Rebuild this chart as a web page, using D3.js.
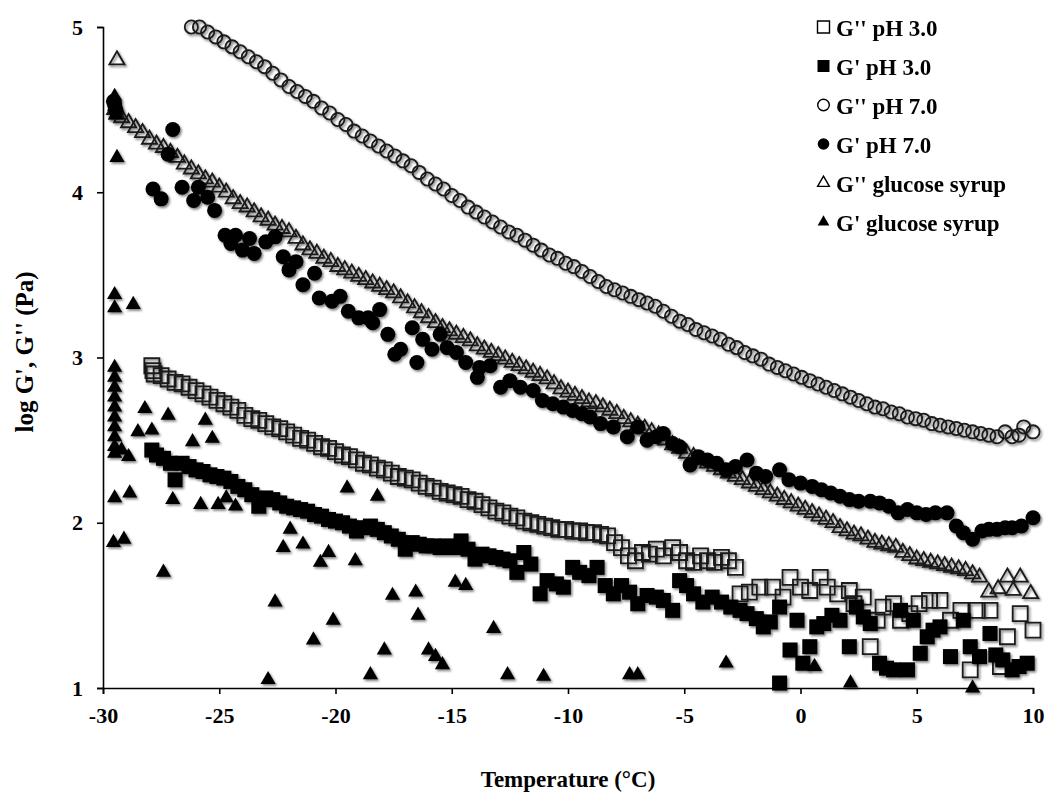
<!DOCTYPE html>
<html>
<head>
<meta charset="utf-8">
<script src="https://cdn.jsdelivr.net/npm/d3@7"></script>
<style>
  html, body { margin: 0; padding: 0; background: #fff; }
  svg { display: block; font-family: "Liberation Serif", "Times New Roman", serif; font-weight: bold; }
</style>
</head>
<body>
<svg id="chart" width="1047" height="796"></svg>
<script>
// ---------------- DATA ----------------
const xTicks = [-30, -25, -20, -15, -10, -5, 0, 5, 10];
const yTicks = [1, 2, 3, 4, 5];
const xTitle = "Temperature (°C)";
const yTitle = "log G', G'' (Pa)";
const legendLabels = ["G'' pH 3.0", "G' pH 3.0", "G'' pH 7.0", "G' pH 7.0", "G'' glucose syrup", "G' glucose syrup"];

// G'' pH 3.0 (open squares)  [temperature, log modulus]
const gppPH3 = [
 [-27.9,2.95],[-27.85,2.92],[-27.8,2.90],[-27.5,2.89],[-27.2,2.87],[-26.9,2.85],[-26.6,2.84],[-26.3,2.82],[-26.0,2.80],
 [-25.7,2.78],[-25.4,2.76],[-25.1,2.74],[-24.8,2.72],[-24.5,2.70],[-24.2,2.68],[-23.9,2.65],[-23.6,2.63],[-23.3,2.62],
 [-23.0,2.60],[-22.7,2.58],[-22.4,2.57],[-22.1,2.55],[-21.8,2.53],[-21.5,2.51],[-21.2,2.50],[-20.9,2.48],[-20.6,2.46],
 [-20.3,2.45],[-20.0,2.43],[-19.7,2.41],[-19.4,2.40],[-19.1,2.38],[-18.8,2.36],[-18.5,2.35],[-18.2,2.33],[-17.9,2.32],
 [-17.6,2.30],[-17.3,2.28],[-17.0,2.27],[-16.7,2.26],[-16.4,2.24],[-16.1,2.22],[-15.8,2.21],[-15.5,2.19],[-15.2,2.18],
 [-14.9,2.17],[-14.6,2.16],[-14.3,2.14],[-14.0,2.13],[-13.7,2.11],[-13.4,2.09],[-13.1,2.07],[-12.8,2.06],[-12.5,2.04],
 [-12.2,2.03],[-11.9,2.01],[-11.6,2.00],[-11.3,1.99],[-11.0,1.98],[-10.7,1.97],[-10.4,1.96],[-10.1,1.96],[-9.8,1.95],
 [-9.5,1.95],[-9.2,1.94],[-8.9,1.94],[-8.6,1.93],[-8.3,1.92],[-8.0,1.88],[-7.7,1.85],[-7.4,1.80],[-7.1,1.77],
 [-6.8,1.82],[-6.5,1.81],[-6.2,1.84],[-5.9,1.80],[-5.5,1.85],[-5.2,1.82],[-4.9,1.77],[-4.6,1.76],[-4.3,1.80],
 [-4.0,1.77],[-3.7,1.76],[-3.4,1.79],[-3.1,1.77],[-2.8,1.73],[-2.6,1.57],[-2.2,1.58],[-1.75,1.61],[-1.2,1.61],
 [-0.75,1.55],[-0.45,1.67],[0.0,1.61],[0.4,1.59],[0.85,1.67],[1.15,1.61],[1.6,1.57],[2.1,1.59],[2.3,1.51],
 [2.7,1.55],[3.0,1.25],[3.3,1.41],[3.55,1.49],[4.0,1.51],[4.3,1.41],[4.7,1.45],[5.1,1.51],[5.55,1.53],
 [6.0,1.53],[6.45,1.41],[6.9,1.47],[7.3,1.11],[7.6,1.47],[8.15,1.47],[8.6,1.13],[8.9,1.31],[9.45,1.45],[10.0,1.35]
];

// G' pH 3.0 (filled squares)
const gpPH3 = [
 [-27.9,2.44],[-27.7,2.41],[-27.4,2.39],[-27.1,2.36],[-26.9,2.26],[-26.6,2.36],[-26.3,2.34],[-26.0,2.32],[-25.7,2.31],
 [-25.4,2.29],[-25.1,2.28],[-24.8,2.27],[-24.5,2.25],[-24.2,2.22],[-23.9,2.20],[-23.6,2.17],[-23.3,2.10],[-23.0,2.15],
 [-22.7,2.14],[-22.4,2.12],[-22.1,2.10],[-21.8,2.09],[-21.5,2.08],[-21.2,2.07],[-20.9,2.05],[-20.6,2.04],[-20.3,2.02],
 [-20.0,2.01],[-19.7,2.00],[-19.4,1.98],[-19.1,1.95],[-18.8,1.97],[-18.5,1.98],[-18.2,1.96],[-17.9,1.94],[-17.6,1.92],
 [-17.3,1.90],[-17.0,1.84],[-16.7,1.88],[-16.4,1.87],[-16.1,1.86],[-15.8,1.86],[-15.5,1.85],[-15.2,1.86],[-14.9,1.85],
 [-14.6,1.89],[-14.3,1.84],[-14.0,1.78],[-13.7,1.81],[-13.4,1.80],[-13.1,1.79],[-12.8,1.78],[-12.5,1.77],[-12.2,1.70],
 [-11.9,1.82],[-11.6,1.75],[-11.2,1.57],[-10.9,1.65],[-10.5,1.63],[-10.2,1.61],[-9.8,1.73],[-9.5,1.70],[-9.1,1.68],
 [-8.75,1.73],[-8.4,1.62],[-8.05,1.57],[-7.7,1.62],[-7.35,1.58],[-7.0,1.51],[-6.6,1.56],[-6.2,1.55],[-5.9,1.53],
 [-5.5,1.47],[-5.2,1.65],[-4.9,1.62],[-4.6,1.57],[-4.2,1.52],[-3.8,1.55],[-3.4,1.52],[-3.0,1.49],[-2.6,1.47],
 [-2.3,1.45],[-1.9,1.42],[-1.6,1.37],[-1.3,1.40],[-0.9,1.49],[-0.9,1.03],[-0.45,1.23],[-0.15,1.41],[0.1,1.15],
 [0.4,1.25],[0.7,1.37],[1.0,1.39],[1.35,1.44],[1.7,1.41],[2.1,1.25],[2.4,1.49],[2.7,1.43],[3.0,1.39],
 [3.4,1.15],[3.7,1.12],[4.0,1.11],[4.3,1.47],[4.6,1.11],[4.85,1.41],[5.15,1.21],[5.45,1.31],[5.7,1.35],
 [6.0,1.37],[6.45,1.19],[7.0,1.41],[7.3,1.25],[7.7,1.19],[8.15,1.33],[8.4,1.20],[8.7,1.17],[9.1,1.11],[9.4,1.13],[9.75,1.15]
];

// G'' pH 7.0 (open circles)
const gppPH7 = [
 [-26.2,5.00],[-25.85,5.00],[-25.5,4.97],[-25.15,4.94],[-24.8,4.91],[-24.45,4.88],[-24.1,4.85],[-23.75,4.82],[-23.4,4.79],
 [-23.05,4.76],[-22.7,4.72],[-22.35,4.68],[-22.0,4.64],[-21.65,4.61],[-21.3,4.58],[-20.95,4.55],[-20.6,4.51],[-20.25,4.48],
 [-19.9,4.44],[-19.55,4.41],[-19.2,4.37],[-18.85,4.34],[-18.5,4.31],[-18.15,4.28],[-17.8,4.25],[-17.45,4.22],[-17.1,4.19],
 [-16.75,4.16],[-16.4,4.12],[-16.05,4.08],[-15.7,4.05],[-15.35,4.02],[-15.0,3.98],[-14.65,3.95],[-14.3,3.91],[-13.95,3.88],
 [-13.6,3.85],[-13.25,3.82],[-12.9,3.79],[-12.55,3.76],[-12.2,3.74],[-11.85,3.71],[-11.5,3.68],[-11.15,3.65],[-10.8,3.62],
 [-10.45,3.60],[-10.1,3.57],[-9.75,3.55],[-9.4,3.52],[-9.05,3.49],[-8.7,3.46],[-8.35,3.43],[-8.0,3.41],[-7.65,3.39],
 [-7.3,3.37],[-6.95,3.35],[-6.6,3.33],[-6.25,3.31],[-5.9,3.28],[-5.55,3.25],[-5.2,3.22],[-4.85,3.20],[-4.5,3.17],
 [-4.15,3.15],[-3.8,3.13],[-3.45,3.11],[-3.1,3.08],[-2.75,3.06],[-2.4,3.03],[-2.05,3.01],[-1.7,2.99],[-1.35,2.96],
 [-1.0,2.94],[-0.65,2.92],[-0.3,2.90],[0.05,2.88],[0.4,2.86],[0.75,2.84],[1.1,2.82],[1.45,2.80],[1.8,2.78],
 [2.15,2.76],[2.5,2.74],[2.85,2.72],[3.2,2.70],[3.55,2.69],[3.9,2.67],[4.25,2.66],[4.6,2.64],[4.95,2.63],
 [5.3,2.62],[5.65,2.60],[6.0,2.59],[6.35,2.58],[6.7,2.57],[7.05,2.56],[7.4,2.55],[7.75,2.54],[8.1,2.53],
 [8.45,2.52],[8.8,2.55],[9.1,2.52],[9.4,2.53],[9.6,2.58],[10.0,2.55]
];

// G' pH 7.0 (filled circles)
const gpPH7 = [
 [-29.55,4.55],[-29.5,4.53],[-29.45,4.50],
 [-27.85,4.02],[-27.5,3.96],[-27.0,4.38],[-27.2,4.23],[-26.6,4.03],[-26.1,3.95],[-25.9,4.03],[-25.5,3.97],[-25.2,3.89],
 [-24.75,3.74],[-24.5,3.69],[-24.3,3.74],[-24.0,3.65],[-23.7,3.72],[-23.5,3.63],[-23.0,3.70],[-22.6,3.73],[-22.25,3.61],
 [-22.0,3.53],[-21.7,3.58],[-21.4,3.44],[-20.9,3.51],[-20.7,3.36],[-20.15,3.34],[-19.8,3.37],[-19.45,3.28],[-19.0,3.24],
 [-18.6,3.24],[-18.4,3.21],[-18.1,3.29],[-17.75,3.14],[-17.45,3.02],[-17.2,3.05],[-16.7,3.18],[-16.5,2.97],[-16.25,3.11],
 [-15.85,3.05],[-15.5,3.14],[-15.2,3.06],[-14.8,3.03],[-14.4,2.97],[-13.9,2.88],[-13.8,2.94],[-13.35,2.95],[-12.9,2.82],
 [-12.5,2.86],[-12.05,2.82],[-11.5,2.80],[-11.1,2.74],[-10.65,2.72],[-10.2,2.70],[-9.8,2.68],[-9.4,2.66],[-9.05,2.64],
 [-8.6,2.60],[-8.05,2.58],[-7.45,2.52],[-7.0,2.58],[-6.6,2.50],[-6.2,2.52],[-5.9,2.54],[-5.5,2.48],[-5.2,2.46],
 [-4.75,2.35],[-4.4,2.40],[-4.0,2.38],[-3.6,2.36],[-3.2,2.32],[-2.8,2.34],[-2.3,2.38],[-1.9,2.30],[-1.5,2.28],
 [-0.9,2.32],[-0.5,2.26],[0.0,2.24],[0.5,2.22],[0.9,2.20],[1.3,2.18],[1.7,2.16],[2.1,2.14],[2.5,2.13],
 [3.0,2.13],[3.4,2.12],[3.8,2.10],[4.2,2.06],[4.6,2.08],[5.0,2.06],[5.4,2.05],[5.8,2.06],[6.3,2.06],
 [6.7,1.98],[7.0,1.94],[7.4,1.90],[7.8,1.95],[8.1,1.96],[8.45,1.96],[8.8,1.97],[9.1,1.97],[9.5,1.98],[10.0,2.03]
];

// G'' glucose syrup (open triangles)
const gppGlu = [
 [-29.4,4.80],
 [-29.5,4.50],[-29.4,4.47],[-29.2,4.45],[-28.9,4.42],[-28.6,4.39],[-28.3,4.36],[-28.0,4.32],[-27.7,4.29],[-27.4,4.27],
 [-27.1,4.24],[-26.8,4.21],[-26.5,4.17],[-26.2,4.14],[-25.9,4.11],[-25.6,4.08],[-25.3,4.06],[-25.0,4.03],[-24.7,4.00],
 [-24.4,3.96],[-24.1,3.93],[-23.8,3.91],[-23.5,3.88],[-23.2,3.85],[-22.9,3.83],[-22.6,3.80],[-22.3,3.78],[-22.0,3.76],
 [-21.7,3.72],[-21.4,3.68],[-21.1,3.65],[-20.8,3.63],[-20.5,3.60],[-20.2,3.58],[-19.9,3.55],[-19.6,3.53],[-19.3,3.51],
 [-19.0,3.49],[-18.7,3.47],[-18.4,3.45],[-18.1,3.43],[-17.8,3.41],[-17.5,3.39],[-17.2,3.36],[-16.9,3.33],[-16.6,3.30],
 [-16.3,3.27],[-16.0,3.24],[-15.7,3.21],[-15.4,3.18],[-15.1,3.16],[-14.8,3.14],[-14.5,3.12],[-14.2,3.10],[-13.9,3.07],
 [-13.6,3.05],[-13.3,3.03],[-13.0,3.01],[-12.7,2.99],[-12.4,2.97],[-12.1,2.95],[-11.8,2.93],[-11.5,2.91],[-11.2,2.89],
 [-10.9,2.87],[-10.6,2.84],[-10.3,2.81],[-10.0,2.79],[-9.7,2.77],[-9.4,2.75],[-9.1,2.73],[-8.8,2.72],[-8.5,2.70],
 [-8.2,2.68],[-7.9,2.66],[-7.6,2.63],[-7.3,2.61],[-7.0,2.59],[-6.7,2.57],[-6.4,2.55],[-6.1,2.53],[-5.8,2.50],
 [-5.5,2.47],[-5.2,2.45],[-4.9,2.42],[-4.6,2.40],[-4.3,2.38],[-4.0,2.36],[-3.7,2.34],[-3.4,2.32],[-3.1,2.30],
 [-2.8,2.28],[-2.5,2.26],[-2.2,2.24],[-1.9,2.22],[-1.6,2.20],[-1.3,2.18],[-1.0,2.16],[-0.7,2.14],[-0.4,2.12],
 [-0.1,2.10],[0.2,2.08],[0.5,2.06],[0.8,2.04],[1.1,2.02],[1.4,2.00],[1.7,1.97],[2.0,1.95],[2.3,1.93],
 [2.6,1.92],[2.9,1.90],[3.2,1.88],[3.5,1.87],[3.8,1.86],[4.1,1.85],[4.4,1.82],[4.7,1.80],[5.0,1.78],
 [5.3,1.77],[5.6,1.76],[5.9,1.75],[6.2,1.74],[6.5,1.73],[6.8,1.72],[7.1,1.71],[7.4,1.69],[7.7,1.67],
 [8.1,1.58],[8.5,1.60],[8.9,1.67],[9.15,1.59],[9.45,1.67],[9.9,1.57]
];

// G' glucose syrup (filled triangles)
const gpGlu = [
 [-29.5,4.58],[-29.5,4.52],[-29.45,4.47],[-29.4,4.21],
 [-29.5,3.38],[-29.5,3.30],[-28.7,3.32],
 [-29.5,2.94],[-29.5,2.88],[-29.5,2.82],[-29.5,2.76],[-29.5,2.70],[-29.5,2.64],[-29.5,2.58],[-29.5,2.52],
 [-29.5,2.46],[-29.5,2.42],[-29.2,2.44],[-28.9,2.40],
 [-28.2,2.69],[-28.5,2.55],[-27.9,2.56],[-27.2,2.65],[-26.15,2.49],[-25.6,2.62],[-25.3,2.51],
 [-29.5,2.15],[-28.85,2.18],[-29.55,1.88],[-29.1,1.90],[-27.4,1.70],[-27.0,2.14],[-25.8,2.11],[-25.05,2.11],
 [-24.7,2.15],[-24.3,2.10],
 [-22.9,1.05],[-22.6,1.52],[-22.25,1.85],[-21.95,1.96],[-21.4,1.87],[-20.95,1.29],[-20.65,1.76],[-20.3,1.82],
 [-20.1,1.41],[-19.5,2.21],[-19.15,1.77],[-18.2,2.16],[-18.5,1.08],[-17.9,1.23],[-17.55,1.56],[-16.55,1.58],
 [-16.45,1.44],[-16.0,1.23],[-15.7,1.19],[-15.4,1.14],[-14.85,1.64],[-14.4,1.62],[-13.2,1.36],[-12.6,1.08],
 [-11.05,1.07],[-7.35,1.08],[-7.0,1.08],[-3.2,1.15],[0.6,1.13],[2.15,1.03],[7.4,1.00]
];

// ---------------- CHART ----------------
const svg = d3.select("#chart");
const x = d3.scaleLinear().domain([-30, 10]).range([103, 1033]);
const y = d3.scaleLinear().domain([1, 5]).range([688, 27]);

const defs = svg.append("defs");
const f = defs.append("filter").attr("id", "shadow")
  .attr("x", "-20%").attr("y", "-20%").attr("width", "140%").attr("height", "140%");
f.append("feDropShadow").attr("dx", 1.5).attr("dy", 1.8).attr("stdDeviation", 1.2)
  .attr("flood-color", "#000").attr("flood-opacity", 0.5);

// axes (plain hyphen for negative numbers, as in the original)
const fmt = d => String(d);
const xAxis = d3.axisBottom(x).tickValues(xTicks).tickSize(6).tickPadding(13).tickFormat(fmt);
const yAxis = d3.axisLeft(y).tickValues(yTicks).tickSize(6).tickPadding(14).tickFormat(fmt);

const gx = svg.append("g").attr("transform", "translate(0,688)").call(xAxis);
const gy = svg.append("g").attr("transform", "translate(103,0)").call(yAxis);
[gx, gy].forEach(g => {
  g.select(".domain").attr("stroke", "#000").attr("stroke-width", 1.6);
  g.selectAll(".tick line").attr("stroke", "#000").attr("stroke-width", 1.6);
  g.selectAll(".tick text").attr("fill", "#000")
    .style("font-family", '"Liberation Serif", serif').style("font-weight", "bold").style("font-size", "22px");
});
gx.selectAll(".tick text").attr("dy", "0.71em");

// titles
svg.append("text").attr("x", 568).attr("y", 787).attr("text-anchor", "middle")
  .style("font-size", "23px").text(xTitle);
svg.append("text").attr("transform", "translate(33,352) rotate(-90)").attr("text-anchor", "middle")
  .style("font-size", "25px").text(yTitle);

// symbols
const sqSize = 15, triSize = 100, circR = 6.6;
const sq = d3.symbol().type(d3.symbolSquare).size(sqSize * sqSize)();
const tri = d3.symbol().type(d3.symbolTriangle).size(triSize)();

function drawPath(data, path, filled) {
  const g = svg.append("g").attr("filter", "url(#shadow)");
  g.selectAll("path").data(data).enter().append("path")
    .attr("d", path)
    .attr("transform", d => `translate(${x(d[0])},${y(d[1])})`)
    .attr("fill", filled ? "#000" : "none")
    .attr("stroke", filled ? "none" : "#1a1a1a")
    .attr("stroke-width", 1.8);
}
function drawCircle(data, filled) {
  const g = svg.append("g").attr("filter", "url(#shadow)");
  g.selectAll("circle").data(data).enter().append("circle")
    .attr("cx", d => x(d[0])).attr("cy", d => y(d[1])).attr("r", filled ? 7.5 : circR)
    .attr("fill", filled ? "#000" : "none")
    .attr("stroke", filled ? "none" : "#1a1a1a")
    .attr("stroke-width", 1.8);
}

drawPath(gppGlu, tri, false);
drawPath(gppPH3, sq, false);
drawCircle(gppPH7, false);
drawPath(gpPH3, sq, true);
drawCircle(gpPH7, true);
drawPath(gpGlu, tri, true);

// legend
const legendRowY = [27, 66, 105, 144, 183, 222];
const legSq = d3.symbol().type(d3.symbolSquare).size(12 * 12)();
const legTri = d3.symbol().type(d3.symbolTriangle).size(60)();
const legendSymbols = [
  { p: legSq, filled: false }, { p: legSq, filled: true },
  { c: true, filled: false }, { c: true, filled: true },
  { p: legTri, filled: false }, { p: legTri, filled: true }
];
const lg = svg.append("g");
legendLabels.forEach((lab, i) => {
  const s = legendSymbols[i];
  const cy = legendRowY[i];
  if (s.c) {
    lg.append("circle").attr("cx", 823.5).attr("cy", cy).attr("r", 5.8)
      .attr("fill", s.filled ? "#000" : "none").attr("stroke", "#000").attr("stroke-width", s.filled ? 0 : 1.4);
  } else {
    lg.append("path").attr("d", s.p).attr("transform", `translate(823.5,${cy})`)
      .attr("fill", s.filled ? "#000" : "none").attr("stroke", s.filled ? "none" : "#000").attr("stroke-width", 1.4);
  }
  lg.append("text").attr("x", 836).attr("y", cy + 9).style("font-size", "23px").text(lab);
});
</script>
</body>
</html>
